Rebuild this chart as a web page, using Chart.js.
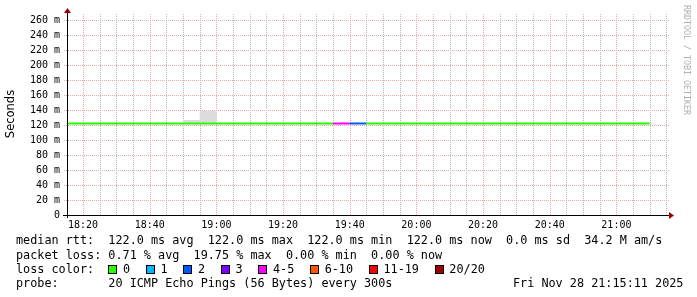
<!DOCTYPE html>
<html>
<head>
<meta charset="utf-8">
<title>Smokeping - last 3 hours</title>
<script src="https://cdn.jsdelivr.net/npm/chart.js"></script>
<style>
  body { margin: 0; background: #fff; }
  #wrap { position: relative; width: 697px; height: 297px; overflow: hidden; background: #fff; }
  #c { position: absolute; left: 0; top: 0; }
  .row { position: absolute; left: 16px; font: 11.8px/14px 'DejaVu Sans Mono', monospace; white-space: pre; color: #000; }
  .stamp { position: absolute; left: 513px; top: 275.5px; font: 11.8px/14px 'DejaVu Sans Mono', monospace; white-space: pre; }
  .box { display: inline-block; box-sizing: border-box; width: 9px; height: 9px; border: 1px solid #000; vertical-align: -1px; margin-right: 5.7px; }
  .item { margin-right: 15.7px; }
  #mark { position: absolute; left: 683px; top: 5px; writing-mode: vertical-rl; font: 8.3px/8px 'DejaVu Sans Mono', monospace; color: #b0b0b0; white-space: pre; }
</style>
</head>
<body>
<div id="wrap">
  <canvas id="c" width="697" height="297"></canvas>
  <div id="mark">RRDTOOL / TOBI OETIKER</div>
  <div class="row" style="top:233px">median rtt:  122.0 ms avg  122.0 ms max  122.0 ms min  122.0 ms now  0.0 ms sd  34.2 M am/s</div>
  <div class="row" style="top:247.5px">packet loss: 0.71 % avg  19.75 % max  0.00 % min  0.00 % now</div>
  <div class="row" id="losscolor" style="top:261.5px">loss color:  </div>
  <div class="row" style="top:275.5px">probe:       20 ICMP Echo Pings (56 Bytes) every 300s</div>
  <div class="stamp">Fri Nov 28 21:15:11 2025</div>
</div>
<script>
// 5 minute bins (start time of each bin)
const binStart = ['18:15', '18:20', '18:25', '18:30', '18:35', '18:40', '18:45', '18:50', '18:55', '19:00',
  '19:05', '19:10', '19:15', '19:20', '19:25', '19:30', '19:35', '19:40', '19:45', '19:50',
  '19:55', '20:00', '20:05', '20:10', '20:15', '20:20', '20:25', '20:30', '20:35', '20:40',
  '20:45', '20:50', '20:55', '21:00', '21:05'];
const binEnd = '21:10';

// median rtt in ms
const medianMs = [122, 122, 122, 122, 122, 122, 122, 122, 122, 122,
  122, 122, 122, 122, 122, 122, 122, 122, 122, 122,
  122, 122, 122, 122, 122, 122, 122, 122, 122, 122,
  122, 122, 122, 122, 122];

// lost pings out of 20
const lostPings = [0, 0, 0, 0, 0, 0, 0, 0, 0, 0,
  0, 0, 0, 0, 0, 0, 4, 2, 0, 0,
  0, 0, 0, 0, 0, 0, 0, 0, 0, 0,
  0, 0, 0, 0, 0];

// smoke (spread of the single pings), ms
const smokeMinMs = [122, 122, 122, 122, 122, 122, 122, 122, 122, 122,
  122, 122, 122, 122, 122, 122, 122, 122, 122, 122,
  122, 122, 122, 122, 122, 122, 122, 122, 122, 122,
  122, 122, 122, 122, 122];
const smokeMaxMs = [122, 122, 122, 122, 122, 122, 122, 126.7, 138.7, 122,
  122, 122, 122, 122, 122, 122, 122, 122, 122, 122,
  122, 122, 122, 122, 122, 122, 122, 122, 122, 122,
  122, 122, 122, 122, 122];

const xTickLabels = ['18:20', '18:40', '19:00', '19:20', '19:40', '20:00', '20:20', '20:40', '21:00'];
const yTickValues = [0, 20, 40, 60, 80, 100, 120, 140, 160, 180, 200, 220, 240, 260];

const lossLabels = ['0', '1', '2', '3', '4-5', '6-10', '11-19', '20/20'];
const lossColors = ['#26ff00', '#00b8ff', '#0059ff', '#7e00ff', '#ff00ff', '#ff5500', '#ff0000', '#a10000'];

const graphStart = '18:15:11';

function toMin(t) {
  const p = t.split(':').map(Number);
  return p[0] * 60 + p[1] + (p[2] || 0) / 60;
}
function fmt(m) {
  const h = Math.floor(m / 60), mm = Math.round(m % 60);
  return h + ':' + String(mm).padStart(2, '0');
}
function lossBucket(n) {
  if (n <= 3) return n;
  if (n <= 5) return 4;
  if (n <= 10) return 5;
  if (n <= 19) return 6;
  return 7;
}
function stepPoints(values) {
  const pts = binStart.map((t, i) => ({ x: toMin(t), y: values[i] }));
  pts.push({ x: toMin(binEnd), y: values[values.length - 1] });
  return pts;
}

// legend row for loss colours
const lc = document.getElementById('losscolor');
lossLabels.forEach((lab, i) => {
  const b = document.createElement('span');
  b.className = 'box';
  b.style.background = lossColors[i];
  lc.appendChild(b);
  const s = document.createElement('span');
  s.className = 'item';
  s.textContent = lab;
  lc.appendChild(s);
});

const xMin = toMin(graphStart);
const xMax = xMin + 180.3;
const majorGrid = '#eeaaaa';
const minorGrid = '#b8b8b8';

// rrdtool style dotted grid, drawn at the scale ticks
const dottedGrid = {
  id: 'dottedGrid',
  beforeDatasetsDraw(chart) {
    const { ctx, chartArea: a, scales } = chart;
    const top = Math.round(a.top), bottom = Math.round(a.bottom);
    const left = Math.round(a.left), right = Math.round(a.right);
    ctx.save();
    // minor first, major on top
    [false, true].forEach(major => {
      ctx.fillStyle = major ? majorGrid : minorGrid;
      scales.x.ticks.forEach(t => {
        if (xTickLabels.includes(fmt(t.value)) !== major) return;
        const x = Math.round(scales.x.getPixelForValue(t.value));
        for (let y = bottom - 1; y >= top; y -= 2) ctx.fillRect(x, y, 1, 1);
      });
      scales.y.ticks.forEach(t => {
        if (yTickValues.includes(t.value) !== major || t.value === 0) return;
        const y = Math.round(scales.y.getPixelForValue(t.value));
        for (let x = left - 3; x <= right; x += 2) ctx.fillRect(x, y, 1, 1);
      });
    });
    ctx.restore();
  }
};

const axisArrows = {
  id: 'axisArrows',
  afterDraw(chart) {
    const { ctx, chartArea: a } = chart;
    ctx.save();
    ctx.strokeStyle = '#000';
    ctx.lineWidth = 1;
    ctx.beginPath();
    ctx.moveTo(a.left - 4, a.bottom + 0.5);
    ctx.lineTo(a.right + 1, a.bottom + 0.5);
    ctx.moveTo(a.left + 0.5, a.bottom + 3);
    ctx.lineTo(a.left + 0.5, a.top - 1);
    ctx.stroke();
    ctx.fillStyle = '#a00000';
    ctx.beginPath();
    ctx.moveTo(a.left + 0.5, a.top - 5);
    ctx.lineTo(a.left - 3, a.top);
    ctx.lineTo(a.left + 4, a.top);
    ctx.closePath();
    ctx.fill();
    ctx.beginPath();
    ctx.moveTo(a.right + 6, a.bottom + 0.5);
    ctx.lineTo(a.right + 1, a.bottom - 3);
    ctx.lineTo(a.right + 1, a.bottom + 4);
    ctx.closePath();
    ctx.fill();
    ctx.restore();
  }
};

new Chart(document.getElementById('c'), {
  type: 'line',
  data: {
    datasets: [
      {
        label: 'median rtt',
        data: stepPoints(medianMs),
        stepped: true,
        borderWidth: 2,
        pointRadius: 0,
        fill: false,
        segment: {
          borderColor: c => lossColors[lossBucket(lostPings[c.p0DataIndex])]
        }
      },
      {
        label: 'smoke low',
        data: stepPoints(smokeMinMs),
        stepped: true,
        borderWidth: 1,
        borderColor: 'rgba(0,0,0,0)',
        pointRadius: 0,
        fill: false
      },
      {
        label: 'smoke high',
        data: stepPoints(smokeMaxMs),
        stepped: true,
        borderWidth: 1,
        borderColor: 'rgba(0,0,0,0)',
        backgroundColor: '#dcdcdc',
        pointRadius: 0,
        fill: '-1'
      }
    ]
  },
  options: {
    responsive: false,
    animation: false,
    devicePixelRatio: 1,
    layout: { padding: { left: 0, top: 13, right: 29, bottom: 0 } },
    plugins: {
      legend: { display: false },
      tooltip: { enabled: false }
    },
    scales: {
      x: {
        type: 'linear',
        min: xMin,
        max: xMax,
        afterBuildTicks: s => {
          const t = [];
          for (let m = Math.ceil(xMin / 5) * 5; m <= xMax; m += 5) t.push({ value: m });
          s.ticks = t;
        },
        afterFit: s => { s.height = 82; },
        ticks: {
          autoSkip: false,
          maxRotation: 0,
          padding: 4,
          color: '#000',
          font: { family: 'DejaVu Sans Mono', size: 10 },
          callback: v => (xTickLabels.includes(fmt(v)) ? fmt(v) : '')
        },
        grid: { display: true, drawOnChartArea: false, drawTicks: false },
        border: { display: false }
      },
      y: {
        min: 0,
        max: 269.3,
        afterBuildTicks: s => {
          const t = [];
          for (let v = 0; v <= yTickValues[yTickValues.length - 1]; v += 10) t.push({ value: v });
          s.ticks = t;
        },
        afterFit: s => { s.width = 67; },
        title: {
          display: true,
          text: 'Seconds',
          color: '#000',
          font: { family: 'DejaVu Sans', size: 11.5 },
          padding: { top: 4, bottom: 0 }
        },
        ticks: {
          padding: 7,
          color: '#000',
          font: { family: 'DejaVu Sans Mono', size: 10 },
          callback: v => (yTickValues.includes(v) ? (v === 0 ? '0' : v + ' m') : '')
        },
        grid: { display: true, drawOnChartArea: false, drawTicks: false },
        border: { display: false }
      }
    }
  },
  plugins: [dottedGrid, axisArrows]
});
</script>
</body>
</html>
